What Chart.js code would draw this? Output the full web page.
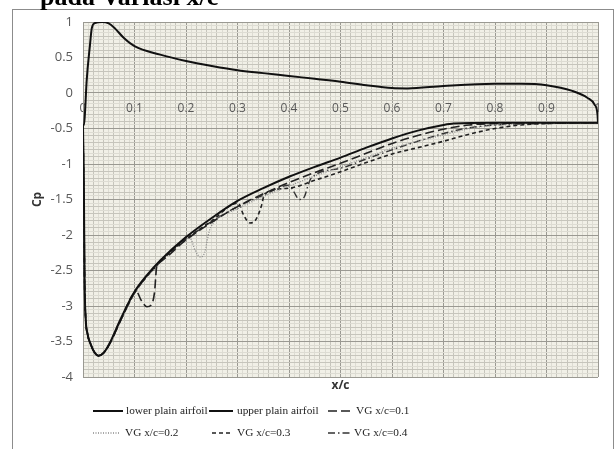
<!DOCTYPE html>
<html>
<head>
<meta charset="utf-8">
<title>Cp pada Variasi x/c</title>
<script src="https://cdn.jsdelivr.net/npm/chart.js@4.4.1/dist/chart.umd.min.js"></script>
<style>
  html, body { margin: 0; padding: 0; background: #fff; }
  #wrap { position: relative; width: 616px; height: 449px; }
</style>
</head>
<body>
<div id="wrap"><canvas id="cpChart" width="616" height="449"></canvas></div>
<script>
'use strict';

// values (x/c , Cp)
var xLower  = [0, 0.002, 0.004, 0.007, 0.0136, 0.017, 0.023, 0.037, 0.05, 0.062, 0.08, 0.1, 0.15, 0.2, 0.25, 0.3, 0.35, 0.4, 0.45, 0.5, 0.55, 0.6, 0.63, 0.7, 0.8, 0.85, 0.9, 0.95, 0.98, 0.993, 0.999, 1.0];
var cpLower = [-0.45, -0.45, -0.26, 0.16, 0.68, 0.91, 0.985, 1.0, 0.98, 0.91, 0.77, 0.66, 0.54, 0.45, 0.38, 0.32, 0.28, 0.24, 0.2, 0.16, 0.11, 0.07, 0.065, 0.1, 0.13, 0.13, 0.11, 0.03, -0.07, -0.16, -0.3, -0.42];

var xUpper  = [0, 0.002, 0.003, 0.005, 0.009, 0.015, 0.022, 0.03, 0.04, 0.052, 0.072, 0.1, 0.125, 0.15, 0.2, 0.25, 0.3, 0.35, 0.4, 0.45, 0.5, 0.55, 0.6, 0.65, 0.7, 0.72, 0.8, 0.9, 1.0];
var cpUpper = [-0.45, -1.6, -2.6, -3.15, -3.4, -3.54, -3.65, -3.7, -3.66, -3.52, -3.2, -2.8, -2.56, -2.36, -2.03, -1.76, -1.52, -1.34, -1.18, -1.04, -0.91, -0.77, -0.64, -0.53, -0.45, -0.43, -0.42, -0.42, -0.42];

var xVg01  = [0, 0.002, 0.003, 0.005, 0.009, 0.015, 0.022, 0.03, 0.04, 0.052, 0.072, 0.104, 0.113, 0.124, 0.133, 0.139, 0.143, 0.15, 0.2, 0.25, 0.3, 0.35, 0.4, 0.45, 0.5, 0.55, 0.6, 0.65, 0.7, 0.75, 0.8, 0.9, 1.0];
var cpVg01 = [-0.45, -1.6, -2.6, -3.15, -3.4, -3.54, -3.65, -3.7, -3.66, -3.53, -3.22, -2.8, -2.92, -3.01, -2.98, -2.8, -2.45, -2.38, -2.07, -1.82, -1.6, -1.42, -1.26, -1.12, -0.99, -0.85, -0.71, -0.6, -0.51, -0.45, -0.43, -0.42, -0.42];

var xVg02  = [0, 0.002, 0.003, 0.005, 0.009, 0.015, 0.022, 0.03, 0.04, 0.052, 0.072, 0.1, 0.15, 0.2, 0.208, 0.218, 0.228, 0.236, 0.245, 0.252, 0.3, 0.35, 0.4, 0.45, 0.5, 0.55, 0.6, 0.65, 0.7, 0.75, 0.8, 0.85, 0.9, 1.0];
var cpVg02 = [-0.45, -1.6, -2.6, -3.15, -3.4, -3.54, -3.65, -3.7, -3.66, -3.53, -3.22, -2.82, -2.38, -2.06, -2.05, -2.22, -2.31, -2.25, -1.95, -1.84, -1.63, -1.46, -1.31, -1.17, -1.04, -0.91, -0.78, -0.68, -0.59, -0.5, -0.45, -0.43, -0.42, -0.42];

var xVg03  = [0, 0.002, 0.003, 0.005, 0.009, 0.015, 0.022, 0.03, 0.04, 0.052, 0.072, 0.1, 0.15, 0.2, 0.25, 0.301, 0.312, 0.324, 0.336, 0.346, 0.353, 0.4, 0.45, 0.5, 0.55, 0.6, 0.65, 0.7, 0.75, 0.8, 0.85, 0.9, 1.0];
var cpVg03 = [-0.45, -1.6, -2.6, -3.15, -3.4, -3.54, -3.65, -3.7, -3.66, -3.53, -3.22, -2.82, -2.38, -2.06, -1.8, -1.55, -1.72, -1.83, -1.78, -1.6, -1.42, -1.34, -1.23, -1.11, -0.98, -0.86, -0.77, -0.68, -0.58, -0.5, -0.45, -0.43, -0.42];

var xVg04  = [0, 0.002, 0.003, 0.005, 0.009, 0.015, 0.022, 0.03, 0.04, 0.052, 0.072, 0.1, 0.15, 0.2, 0.25, 0.3, 0.35, 0.4, 0.41, 0.42, 0.43, 0.437, 0.443, 0.5, 0.55, 0.6, 0.65, 0.7, 0.75, 0.8, 0.9, 1.0];
var cpVg04 = [-0.45, -1.6, -2.6, -3.15, -3.4, -3.54, -3.65, -3.7, -3.66, -3.53, -3.22, -2.82, -2.38, -2.06, -1.81, -1.6, -1.44, -1.3, -1.4, -1.5, -1.46, -1.3, -1.2, -1.06, -0.93, -0.8, -0.68, -0.57, -0.49, -0.45, -0.43, -0.42];

var seriesNames = ['lower plain airfoil', 'upper plain airfoil', 'VG x/c=0.1', 'VG x/c=0.2', 'VG x/c=0.3', 'VG x/c=0.4'];

var xMin = 0, xMax = 1, yMin = -4, yMax = 1;

function toPoints(xs, ys) {
  var pts = [];
  for (var i = 0; i < xs.length; i++) {
    pts.push({ x: xs[i], y: ys[i] });
  }
  return pts;
}

function isMultiple(v, step) {
  var q = v / step;
  return Math.abs(q - Math.round(q)) < 1e-6;
}

var gridMajor = '#9a9992';
var gridMid = '#c6c5bc';
var gridMinor = '#dddcd3';

// where each legend entry sits (two rows, like the original)
var legendSlots = [
  { x0: 93,  x1: 123, tx: 126, y: 411 },
  { x0: 209, x1: 233, tx: 237, y: 411 },
  { x0: 328, x1: 353, tx: 356, y: 411 },
  { x0: 93,  x1: 120, tx: 125, y: 433 },
  { x0: 212, x1: 233, tx: 237, y: 433 },
  { x0: 328, x1: 350, tx: 354, y: 433 }
];

var paperPlugin = {
  id: 'paper',
  beforeDraw: function(chart) {
    var c = chart.ctx, a = chart.chartArea;
    c.save();
    c.fillStyle = '#ffffff';
    c.fillRect(0, 0, chart.width, chart.height);
    // frame round the figure
    c.strokeStyle = '#8c8c8c';
    c.lineWidth = 1;
    c.strokeRect(12.5, 9.5, 601, 460);
    // caption cut off at the top
    c.fillStyle = '#000';
    c.font = 'bold 26px "Liberation Serif"';
    c.textBaseline = 'alphabetic';
    c.fillText('pada Variasi x/c', 40, 5);
    // graph paper background
    c.fillStyle = '#f1f0e7';
    c.fillRect(a.left, a.top, a.right - a.left, a.bottom - a.top);
    c.restore();
  },
  afterDraw: function(chart) {
    var c = chart.ctx;
    c.save();
    c.font = '11.3px "Liberation Serif"';
    c.fillStyle = '#222';
    c.textBaseline = 'middle';
    chart.data.datasets.forEach(function(ds, i) {
      var s = legendSlots[i];
      c.beginPath();
      c.setLineDash(ds.borderDash || []);
      c.lineWidth = ds.borderWidth;
      c.strokeStyle = ds.borderColor;
      c.moveTo(s.x0, s.y);
      c.lineTo(s.x1, s.y);
      c.stroke();
      c.setLineDash([]);
      c.fillText(ds.label, s.tx, s.y);
    });
    c.restore();
  }
};

var ctx = document.getElementById('cpChart').getContext('2d');

var chart = new Chart(ctx, {
  type: 'line',
  data: {
    datasets: [{
      label: seriesNames[0],
      data: toPoints(xLower, cpLower),
      borderColor: '#111',
      borderWidth: 2
    },
    {
      label: seriesNames[1],
      data: toPoints(xUpper, cpUpper),
      borderColor: '#111',
      borderWidth: 2
    },
    {
      label: seriesNames[2],
      data: toPoints(xVg01, cpVg01),
      borderColor: '#222',
      borderWidth: 1.6,
      borderDash: [9, 4]
    },
    {
      label: seriesNames[3],
      data: toPoints(xVg02, cpVg02),
      borderColor: '#8a8a8a',
      borderWidth: 1.3,
      borderDash: [1, 1.5]
    },
    {
      label: seriesNames[4],
      data: toPoints(xVg03, cpVg03),
      borderColor: '#222',
      borderWidth: 1.6,
      borderDash: [4, 3]
    },
    {
      label: seriesNames[5],
      data: toPoints(xVg04, cpVg04),
      borderColor: '#333',
      borderWidth: 1.4,
      borderDash: [7, 3, 1.5, 3]
    }]
  },
  options: {
    responsive: false,
    animation: false,
    parsing: false,
    layout: { padding: { left: 12, right: 18, top: 22, bottom: 52 } },
    elements: {
      point: { radius: 0, hoverRadius: 0 },
      line: { cubicInterpolationMode: 'monotone', fill: false }
    },
    plugins: {
      legend: { display: false },
      tooltip: { enabled: false },
      title: { display: false }
    },
    scales: {
      x: {
        type: 'linear',
        position: { y: 0 },
        min: xMin,
        max: xMax,
        border: { display: true, color: gridMajor },
        grid: {
          drawTicks: false,
          color: function(c) {
            var v = c.tick.value;
            if (isMultiple(v, 0.1)) return gridMajor;
            if (isMultiple(v, 0.02)) return gridMid;
            return gridMinor;
          }
        },
        ticks: {
          stepSize: 0.01,
          autoSkip: false,
          maxRotation: 0,
          padding: 8,
          color: '#595959',
          font: { family: '"Open Sans"', size: 12 },
          callback: function(v) {
            return isMultiple(v, 0.1) ? String(Number(v.toFixed(1))) : '';
          }
        }
      },
      xTitle: {
        type: 'linear',
        position: 'bottom',
        min: xMin,
        max: xMax,
        grid: { display: false },
        border: { display: false },
        ticks: { display: false },
        title: {
          display: true,
          text: 'x/c',
          color: '#333',
          font: { family: '"Open Sans"', size: 12, weight: 'bold' },
          padding: { top: 0, bottom: 4 }
        },
        afterFit: function(s) { s.height = 20; }
      },
      y: {
        type: 'linear',
        position: 'left',
        min: yMin,
        max: yMax,
        border: { display: true, color: gridMajor },
        grid: {
          drawTicks: false,
          color: function(c) {
            var v = c.tick.value;
            if (isMultiple(v, 0.5)) return gridMajor;
            if (isMultiple(v, 0.1)) return gridMid;
            return gridMinor;
          }
        },
        ticks: {
          stepSize: 0.05,
          autoSkip: false,
          padding: 10,
          color: '#595959',
          font: { family: '"Open Sans"', size: 13 },
          callback: function(v) {
            return isMultiple(v, 0.5) ? String(Number(v.toFixed(1))) : '';
          }
        },
        title: {
          display: true,
          text: 'Cp',
          color: '#333',
          font: { family: '"Open Sans"', size: 12, weight: 'bold' },
          padding: { top: 18, bottom: 0 }
        },
        afterFit: function(s) { s.width = 71; }
      }
    }
  },
  plugins: [paperPlugin]
});
</script>
</body>
</html>
